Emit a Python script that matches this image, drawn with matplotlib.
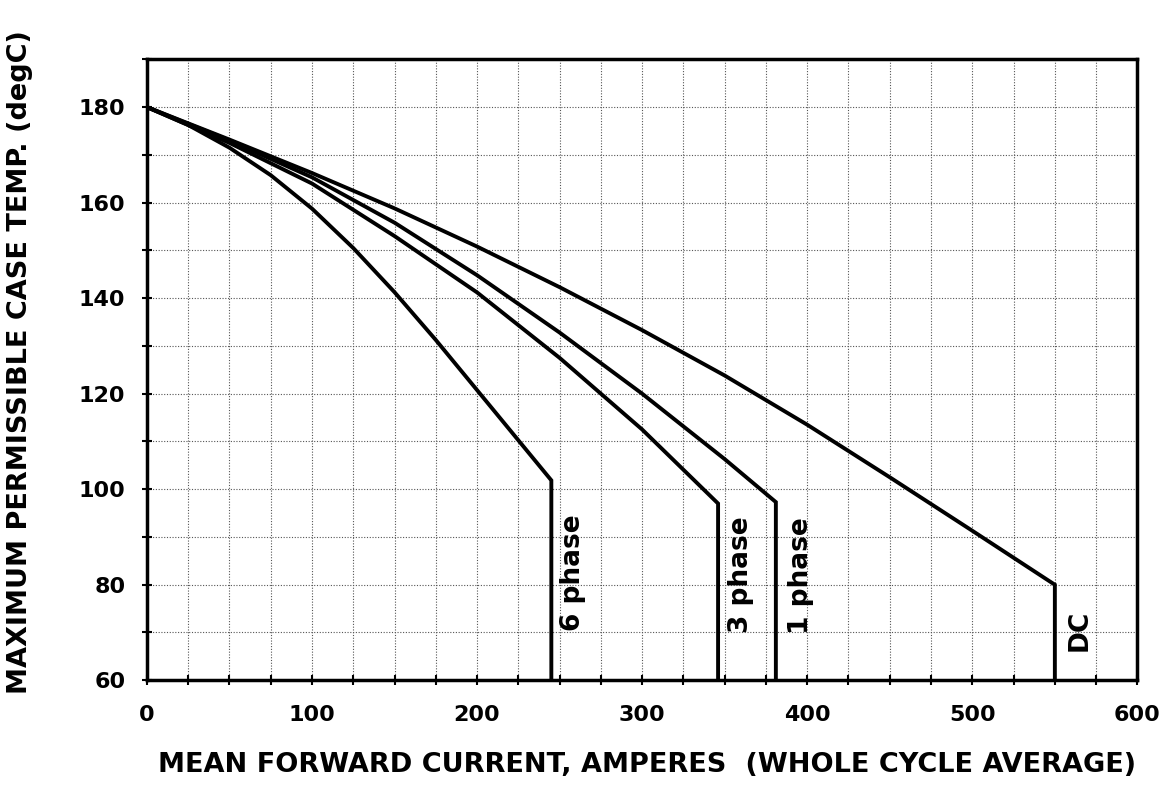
import matplotlib
matplotlib.use("Agg")
import matplotlib.pyplot as plt

# rating curves (amps, degC); last point drops to the axis
dc_amps = [0, 50, 100, 150, 200, 250, 300, 350, 400, 450, 500, 550, 550]
dc_temp = [180, 173.2, 166.2, 158.8, 150.8, 142.3, 133.3, 123.8, 113.5, 102.5, 91.3, 80, 60]

ph1_amps = [0, 50, 100, 150, 200, 250, 300, 350, 381, 381]
ph1_temp = [180, 173, 165.3, 155.8, 144.8, 132.8, 120, 106.3, 97.3, 60]

ph3_amps = [0, 50, 100, 150, 200, 250, 300, 346, 346]
ph3_temp = [180, 172.5, 164, 153, 141.2, 127.5, 112.5, 97, 60]

ph6_amps = [0, 25, 50, 75, 100, 125, 150, 175, 200, 225, 245, 245]
ph6_temp = [180, 176.25, 171.5, 165.75, 158.75, 150.5, 141.25, 131.25, 120.75, 110.25, 101.85, 60]

label_text = ["6 phase", "3 phase", "1 phase", "DC"]
label_x = [258, 360, 396, 565]
label_y = [82.5, 82, 82, 70.5]

xticks = [0, 100, 200, 300, 400, 500, 600]
yticks = [60, 80, 100, 120, 140, 160, 180]

plt.rcParams['font.family'] = ['DejaVu Sans']
plt.rcParams['font.weight'] = 'bold'

fig = plt.figure(figsize=(11.75, 7.91), dpi=100)
ax = fig.add_axes([0.125, 0.14, 0.843, 0.785])

for xs, ys in [(dc_amps, dc_temp), (ph1_amps, ph1_temp), (ph3_amps, ph3_temp), (ph6_amps, ph6_temp)]:
    ax.plot(xs, ys, color="black", linewidth=2.8, solid_joinstyle="miter")

for t, x, y in zip(label_text, label_x, label_y):
    ax.text(x, y, t, rotation=90, ha="center", va="center", fontsize=19, fontweight="bold")

ax.set_xlim(0, 600)
ax.set_ylim(60, 190)
ax.set_xticks(xticks)
ax.set_yticks(yticks)
ax.set_xticks(range(0, 601, 25), minor=True)
ax.set_yticks(range(60, 191, 10), minor=True)
ax.grid(which="both", color="#555555", linestyle=(0, (1, 1.5)), linewidth=0.8)
ax.tick_params(which="both", direction="inout", length=7, width=1.5, labelsize=16)
ax.tick_params(axis="x", pad=14)
ax.tick_params(axis="y", pad=12)
for sp in ax.spines.values():
    sp.set_linewidth(2.5)

ax.set_xlabel("MEAN FORWARD CURRENT, AMPERES  (WHOLE CYCLE AVERAGE)", fontsize=19.5, fontweight="bold")
ax.set_ylabel("MAXIMUM PERMISSIBLE CASE TEMP. (degC)", fontsize=19.5, fontweight="bold")
ax.xaxis.set_label_coords(0.505, -0.116)
ax.yaxis.set_label_coords(-0.115, 0.512)

fig.savefig("out.png", dpi=100)
plt.close(fig)
